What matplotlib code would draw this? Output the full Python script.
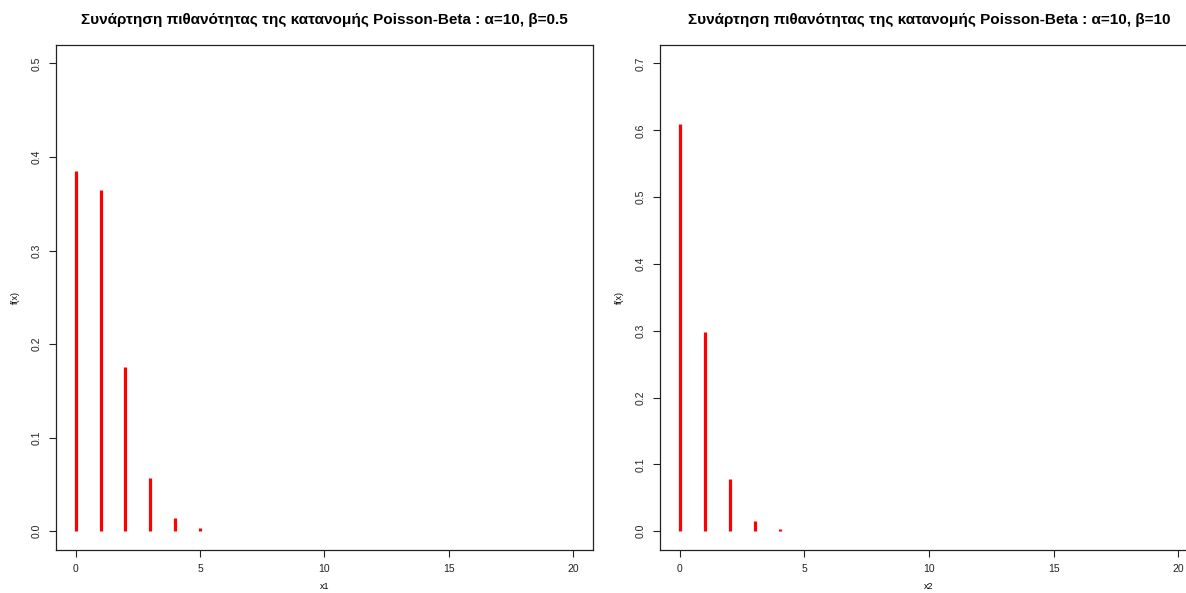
import numpy as np
import matplotlib.pyplot as plt

plt.rcParams['font.family'] = ['Liberation Sans', 'DejaVu Sans']

# values
x1 = [0, 1, 2, 3, 4, 5]
f1 = [0.385, 0.365, 0.176, 0.057, 0.014, 0.0035]
x2 = [0, 1, 2, 3, 4]
f2 = [0.610, 0.298, 0.078, 0.015, 0.003]

titles = ["Συνάρτηση πιθανότητας της κατανομής Poisson-Beta : α=10, β=0.5",
          "Συνάρτηση πιθανότητας της κατανομής Poisson-Beta : α=10, β=10"]
xlabels = ["x1", "x2"]
ymax = [0.5, 0.7]

fig = plt.figure(figsize=(11.86, 5.93), dpi=100)
ax1 = fig.add_axes([0.0471, 0.0725, 0.4529, 0.852])
ax2 = fig.add_axes([0.5565, 0.0725, 0.4536, 0.852])

for ax, xs, fs, title, xl, ym in zip([ax1, ax2], [x1, x2], [f1, f2], titles, xlabels, ymax):
    ax.vlines(xs, 0, fs, colors="red", linewidth=2.3)
    ax.set_xlim(-0.8, 20.8)
    ax.set_ylim(-0.04 * ym, ym * 1.04)
    ax.set_xticks([0, 5, 10, 15, 20])
    ticks = np.round(np.arange(0, ym + 0.001, 0.1), 1)
    ax.set_yticks(ticks)
    ax.set_yticklabels(["%.1f" % v for v in ticks], rotation=90, va="center")
    ax.tick_params(direction="out", length=5, width=0.8, labelsize=7.5, pad=5, colors="#222222")
    for s in ax.spines.values():
        s.set_linewidth(0.9)
        s.set_color("#222222")
    ax.set_title(title, fontsize=11, fontweight="bold", pad=15)
    ax.set_xlabel(xl, fontsize=6.5, labelpad=6)
    ax.set_ylabel("f(x)", fontsize=6.5, labelpad=9)

fig.savefig("out.png", dpi=100)
